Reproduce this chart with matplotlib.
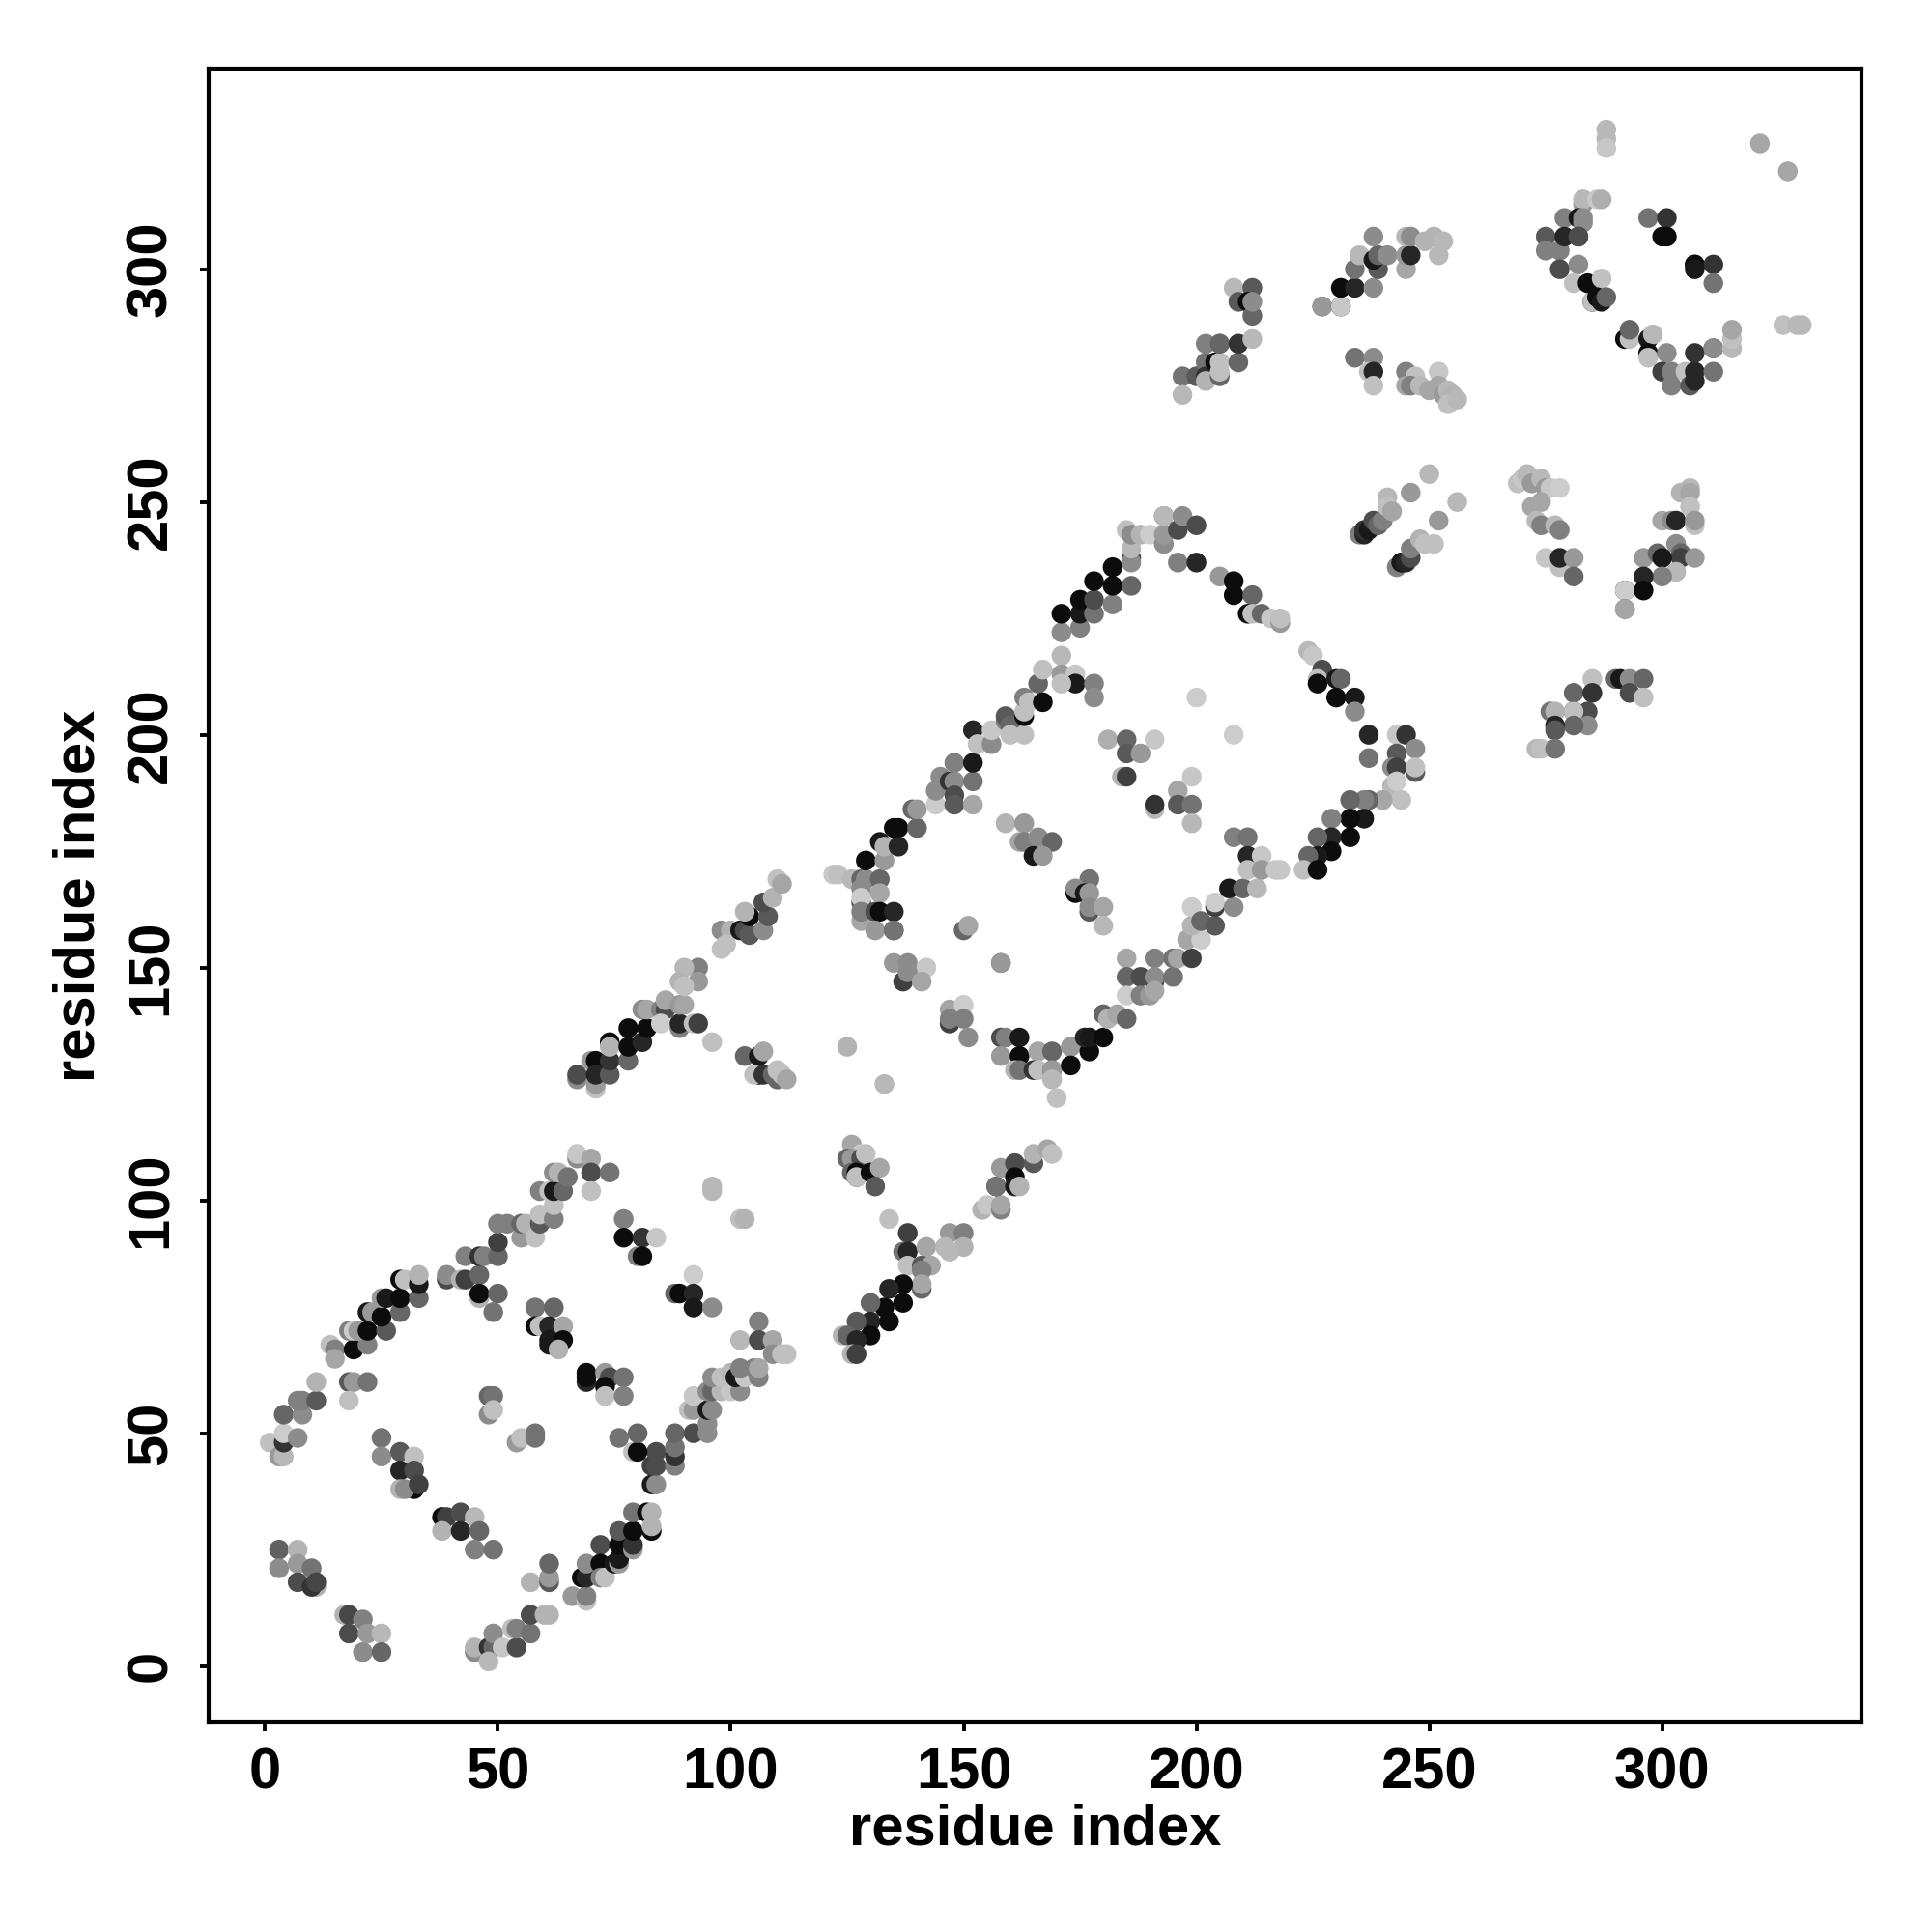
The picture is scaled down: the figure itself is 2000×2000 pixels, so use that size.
import matplotlib
matplotlib.use('Agg')
import matplotlib.pyplot as plt
import numpy as np

# contacts: (residue i, residue j, grey level)
lower_left = [
    (3,25,.38),(7,25,.7),(3,21,.55),(7,22,.6),(10,21,.45),(7,18,.3),(11,17,.7),(10,17,.2),(11,18,.27),
    (17,11,.7),(18,11,.28),(21,10,.5),(18,7,.3),(22,7,.6),(25,7,.72),(21,3,.55),(25,3,.4),
    (45,3,.55),(45,4,.7),(48,4,.2),(49,4,.4),(49,7,.55),(48,1,.72),(51,4,.78),(54,4,.3),
    (53,8,.75),(54,8,.5),(57,7,.45),(57,11,.3),(60,11,.7),(61,11,.7),
    (57,18,.7),(61,18,.35),(61,19,.6),(61,22,.4),
]
lower_arm = [
    (66,15,.6),(69,14,.75),(69,15,.5),(68,19,.05),(69,19,.15),(69,22,.55),(72,26,.3),(72,22,.05),
    (72,19,.5),(73,19,.75),(75,22,.1),(76,22,.6),(76,23,.1),(76,26,.05),(76,29,.35),(79,25,.6),(79,26,.2),
    (79,29,.05),(79,33,.45),(82,33,.05),(83,33,.7),(83,29,.05),(83,30,.7),
    (83,39,.1),(84,39,.55),(83,43,.25),(84,43,.3),(84,46,.3),(79,46,.75),(80,46,.05),(80,50,.4),(76,49,.45),
    (88,43,.5),(88,45,.2),(88,47,.45),(88,50,.4),(92,50,.3),(95,50,.55),(95,52,.55),(91,55,.75),(92,55,.6),
    (95,55,.1),(96,55,.55),(92,58,.78),(95,59,.55),(96,59,.4),(98,59,.72),(100,59,.78),(102,59,.55),
    (96,62,.55),(98,62,.75),(100,63,.72),(101,62,.1),(103,62,.78),(102,64,.5),(105,64,.5),(106,62,.5),(106,64,.65),
    (106,74,.5),(102,70,.72),(106,70,.3),(109,70,.65),(109,67,.55),(111,67,.75),(112,67,.75),
]
upper_arm = [
    (1,48,.75),(3,45,.6),(4,45,.72),(4,48,.2),(4,50,.8),(7,49,.55),(4,54,.4),(8,54,.55),(7,57,.5),(8,57,.5),
    (11,57,.35),(11,61,.7),(18,61,.35),(19,61,.6),(22,61,.45),(18,57,.75),
    (14,69,.75),(15,68,.5),(15,66,.65),(19,68,.05),(22,69,.5),(18,72,.5),(19,72,.8),(20,72,.6),(22,72,.05),
    (22,76,.1),(23,76,.6),(26,72,.35),(25,75,.05),(29,76,.4),(25,79,.6),(26,79,.1),(29,79,.05),(33,79,.4),
    (29,83,.05),(30,83,.75),(33,82,.1),(33,84,.7),
    (39,83,.3),(39,84,.55),(42,83,.7),(43,83,.25),(46,84,.4),(46,79,.7),(46,80,.05),(50,80,.4),(49,76,.45),
    (43,88,.5),(46,88,.2),(47,88,.5),(50,88,.4),(50,91,.25),(50,95,.5),(52,95,.5),(55,92,.6),(55,95,.4),
    (56,95,.7),(58,92,.75),(59,95,.35),(59,97,.75),(62,96,.5),(62,99,.75),(59,102,.5),(61,102,.75),
    (62,102,.1),(64,102,.4),(62,106,.55),(63,106,.7),(65,105,.45),(67,109,.55),(67,110,.78),(70,109,.65),
    (70,106,.3),(74,106,.45),(70,102,.75),
]
inner_a = [
    (77,96,.5),(77,92,.05),(81,92,.2),(84,92,.78),(80,88,.5),(81,88,.05),
    (92,84,.8),(88,80,.4),(89,80,.05),(92,80,.15),(92,77,.1),(96,77,.55),
    (96,102,.72),(96,103,.72),(102,96,.75),(103,96,.7),
    (58,77,.45),(62,77,.4),(58,73,.05),(59,73,.75),(61,73,.15),(64,73,.65),(61,69,.1),(61,70,.1),(64,70,.05),(63,68,.7),
    (69,61,.15),(69,62,.05),(69,63,.05),(73,63,.6),(74,62,.3),(77,62,.45),(73,60,.05),(73,58,.75),(77,58,.5),
    (48,58,.4),(49,58,.45),(48,54,.55),(49,55,.75),
    (54,48,.6),(55,49,.75),(58,49,.45),(58,50,.45),
    (25,49,.45),(25,45,.55),(29,46,.35),(32,45,.75),(29,42,.15),(32,42,.3),(32,38,.05),(29,38,.7),(30,38,.55),(33,39,.25),
    (38,32,.05),(39,32,.25),(38,29,.7),(42,33,.3),(42,29,.15),(45,32,.72),(46,29,.4),(45,25,.5),(49,25,.45),
]
middle_arm = [
    (67,126,.55),(67,127,.3),(70,130,.6),(71,130,.05),(71,124,.75),(71,125,.6),(71,127,.15),
    (74,127,.35),(74,130,.2),(78,130,.4),(74,134,.05),(74,133,.7),(78,137,.05),(78,133,.05),(81,134,.15),(82,137,.05),
    (81,141,.55),(82,141,.65),(85,141,.5),(86,141,.3),(86,143,.65),(85,138,.8),(89,137,.5),(89,138,.15),(89,142,.6),(90,142,.65),
    (92,138,.75),(93,138,.25),(93,150,.5),(93,147,.6),(90,150,.72),(89,147,.7),(90,146,.75),(96,134,.75),
    (98,158,.55),(100,158,.7),(98,154,.75),(99,155,.75),(102,158,.1),(103,158,.3),(104,157,.35),(107,158,.55),
    (104,161,.05),(103,162,.7),(108,161,.35),(107,164,.3),(109,165,.7),(110,169,.75),(111,168,.65),
    (103,131,.4),(106,131,.1),(107,132,.65),(106,127,.05),(105,127,.75),(107,127,.2),(109,127,.4),(110,126,.4),
    (110,128,.75),(111,127,.75),(112,126,.65),
]
mid_lower = [
    (125,133,.7),(133,125,.72),
    (126,112,.65),(128,110,.78),(125,109,.4),(126,109,.6),(128,109,.3),(129,110,.75),(126,106,.4),(127,106,.05),
    (127,105,.3),(127,105,.75),(130,106,.05),(132,107,.65),(131,103,.35),
    (134,96,.75),(138,93,.25),(137,89,.45),(138,89,.15),(142,90,.65),(138,86,.75),(141,86,.35),(143,86,.65),(141,85,.5),
    (141,81,.4),(141,82,.65),(137,82,.05),(137,78,.05),(134,81,.15),(133,77,.05),(130,78,.4),(130,74,.15),(134,74,.05),
    (127,74,.35),(124,71,.7),(125,71,.4),(130,71,.05),(127,70,.15),(126,67,.7),(127,67,.25),
    (147,93,.6),(150,93,.5),(146,90,.72),(150,90,.7),(147,89,.72),
    (154,98,.75),(154,98,.7),(155,99,.78),(158,98,.5),(158,99,.65),(157,103,.25),(157,103,.45),(158,107,.6),
    (161,108,.3),(161,105,.05),(161,103,.1),(162,103,.7),(165,108,.35),(165,110,.7),(168,111,.65),(169,110,.75),
]
ring_left = [
    (122,170,.78),(123,170,.75),(126,169,.72),(128,169,.4),(129,169,.55),(132,169,.4),(128,167,.55),(128,164,.35),(128,165,.8),
    (132,166,.65),(128,160,.65),(128,162,.5),(131,162,.3),(132,162,.05),(135,162,.15),(131,158,.6),(135,158,.3),(135,158,.45),
    (129,173,.05),(133,173,.6),(132,177,.1),(133,176,.7),(136,180,.05),(136,176,.15),(135,180,.05),(140,180,.4),
    (139,184,.4),(140,184,.6),(144,185,.8),(144,188,.55),(145,191,.55),(147,190,.2),(148,190,.55),(148,187,.3),(148,185,.35),
    (152,185,.65),(152,190,.45),(148,194,.5),(152,194,.1),(152,201,.15),(153,198,.75),(156,198,.55),(156,201,.78),
    (159,203,.5),(159,204,.35),(160,202,.4),(160,200,.75),(163,200,.75),(163,204,.05),(163,205,.75),(163,208,.5),(164,207,.75),(166,211,.4),
    (167,207,.05),(167,214,.75),(171,217,.72),(171,213,.6),(174,213,.78),(174,211,.1),(171,211,.75),(178,211,.5),(178,208,.55),
]
ring_top = [
    (171,222,.55),(171,226,.05),(175,223,.5),(175,226,.1),(178,226,.45),(175,229,.05),(178,229,.3),(182,228,.5),(178,233,.05),
    (182,232,.05),(182,236,.05),(186,232,.4),(186,238,.3),(186,237,.55),(186,240,.72),(185,244,.75),(186,243,.55),
    (188,243,.7),(190,243,.8),(193,241,.55),(193,243,.6),(193,247,.4),(193,247,.72),(196,244,.3),(197,247,.55),
    (200,245,.3),(196,237,.5),(200,237,.15),
    (205,234,.6),(208,233,.05),(208,230,.05),(212,230,.4),(211,226,.05),(212,226,.75),(214,226,.4),
    (216,225,.78),(218,224,.6),(218,225,.75),
]
ring_right = [
    (224,218,.72),(225,217,.78),(227,214,.3),(226,212,.75),(226,211,.05),(230,212,.1),(231,212,.4),(230,208,.05),(234,208,.1),
    (234,205,.55),(237,200,.15),(237,195,.45),(243,200,.78),(245,200,.2),(243,196,.35),(247,197,.55),(242,193,.55),(243,193,.25),
    (247,192,.35),(247,193,.75),(242,189,.72),(243,190,.8),(244,186,.75),(240,186,.65),(237,186,.4),(236,186,.5),(233,186,.4),
    (236,182,.1),(233,182,.05),(229,182,.5),(233,178,.05),(229,178,.15),(229,175,.05),(226,178,.4),(226,174,.1),(224,174,.4),
    (223,171,.75),(226,171,.05),
]
ring_lower = [
    (158,135,.3),(159,135,.5),(162,135,.1),(158,131,.6),(162,131,.05),(166,132,.65),(169,132,.4),(161,128,.7),(162,128,.45),
    (165,128,.2),(166,128,.75),(169,128,.35),(169,128,.6),(169,126,.72),(170,122,.75),(173,133,.6),(173,129,.05),(177,132,.05),
    (176,135,.15),(177,135,.1),(180,135,.05),(180,140,.4),(181,139,.7),(183,140,.65),(185,139,.4),
    (185,152,.65),(191,152,.5),(185,148,.4),(188,148,.3),(191,147,.3),(191,148,.55),(195,148,.45),(185,144,.8),(188,144,.5),
    (190,144,.6),(191,145,.65),(195,152,.45),(196,152,.65),(199,152,.25),
    (198,156,.65),(201,156,.8),(199,159,.7),(199,163,.8),(201,160,.4),(204,159,.35),(204,163,.25),(204,164,.8),(208,163,.55),
    (207,167,.1),(210,167,.4),(213,167,.72),
    (208,178,.5),(211,178,.45),(211,174,.15),(214,174,.78),(211,171,.75),(214,171,.6),(217,171,.78),(218,171,.78),
]
ring_inner = [
    (200,208,.8),(208,200,.8),(181,199,.68),(185,199,.4),(191,199,.78),(185,196,.35),(188,196,.6),(184,191,.7),(185,191,.25),
    (199,191,.78),(196,188,.65),(191,184,.72),(191,185,.2),(196,185,.35),(199,185,.45),(199,181,.72),
    (159,181,.7),(163,181,.6),(162,177,.65),(163,177,.5),(166,178,.55),(169,177,.4),(165,174,.1),(167,174,.6),
    (177,169,.45),(174,166,.05),(174,167,.55),(176,166,.1),(177,166,.6),(177,162,.35),(177,163,.55),(180,163,.65),(180,159,.72),
    (135,151,.6),(138,151,.55),(142,150,.78),(137,147,.25),(138,149,.55),(141,147,.65),
    (150,158,.4),(151,159,.65),(158,151,.4),(158,151,.6),
    (147,141,.65),(150,142,.8),(147,138,.25),(147,139,.5),(150,139,.5),(151,135,.55),
]
strand_b = [
    (197,277,.45),(197,273,.72),(200,277,.35),(202,280,.45),(202,277,.2),(202,276,.7),(202,284,.5),(205,284,.5),
    (204,280,.05),(205,280,.75),(205,277,.4),(205,278,.75),(205,284,.4),(209,280,.4),(209,284,.2),(212,285,.72),
    (208,296,.72),(212,296,.35),(209,293,.35),(211,293,.05),(212,290,.4),(212,293,.55),
    (227,292,.35),(227,292,.6),(231,292,.05),(231,292,.78),(231,296,.05),(234,296,.15),(238,296,.55),(234,300,.45),(239,300,.35),
    (235,303,.72),(238,302,.1),(239,303,.4),(241,303,.55),(238,307,.55),(245,300,.65),(245,303,.6),(246,303,.15),
    (245,307,.72),(246,307,.55),(249,306,.7),(252,303,.72),(251,307,.7),(253,306,.72),
    (234,281,.45),(238,281,.55),(237,278,.75),(238,278,.15),(238,275,.75),
    (245,278,.5),(247,277,.75),(245,275,.65),(246,275,.5),(252,278,.78),(248,275,.72),(250,274,.65),(252,275,.65),
    (253,273,.6),(254,274,.72),(255,273,.7),(254,271,.75),(256,272,.72),
]
strand_c = [
    (250,256,.72),(246,252,.6),(256,250,.72),(252,246,.6),
    (235,243,.5),(236,243,.15),(236,244,.2),(237,244,.1),(238,246,.3),(239,245,.4),(240,246,.5),(241,251,.72),(241,249,.75),(242,248,.65),
    (243,236,.5),(244,237,.2),(244,237,.1),(245,237,.15),(246,238,.3),(246,240,.5),(248,242,.7),(249,241,.75),(251,241,.75),
    (269,254,.75),(270,255,.78),(271,256,.72),(272,254,.6),(274,255,.72),(275,253,.6),(276,253,.78),(278,253,.8),
    (272,249,.65),(274,250,.65),(273,246,.72),(274,245,.5),(277,245,.72),(278,244,.5),(275,238,.78),(278,236,.75),(278,238,.15),(281,238,.6),(281,234,.4),
    (306,253,.72),(304,252,.7),(306,252,.65),(306,249,.75),(300,246,.65),(302,246,.55),(303,246,.15),(307,245,.75),(307,246,.6),
    (303,241,.55),(304,239,.4),(304,238,.25),(307,238,.6),(296,238,.6),(299,239,.4),(300,238,.1),(303,235,.72),(300,234,.5),
    (296,234,.15),(292,231,.05),(292,231,.8),(296,231,.05),(292,227,.35),(292,227,.65),
    (285,212,.75),(290,212,.4),(291,212,.1),(293,212,.55),(296,212,.4),(293,209,.3),(296,208,.75),(281,209,.4),(285,209,.2),
    (284,205,.3),(281,205,.05),(281,205,.75),(276,205,.45),(277,205,.7),(284,202,.55),(281,202,.4),(277,202,.15),(277,201,.35),
    (273,197,.72),(274,197,.75),(277,197,.45),
]
top_corner = [
    (288,330,.72),(288,328,.72),(288,326,.78),(321,327,.65),(327,321,.65),(326,288,.75),(329,288,.72),(330,288,.72),
    (283,314,.6),(283,315,.72),(286,315,.78),(287,315,.68),(279,311,.5),(282,311,.1),(283,311,.55),(283,310,.55),
    (275,307,.35),(275,304,.5),(278,304,.5),(279,307,.15),(282,307,.2),(282,307,.3),
    (278,300,.3),(282,301,.55),(281,297,.75),(284,297,.05),(287,298,.75),(285,293,.05),(285,293,.75),(286,294,.05),(287,293,.1),(288,294,.4),
    (297,311,.45),(301,311,.2),(300,307,.05),(301,307,.05),(307,301,.05),(307,301,.05),(311,301,.2),(307,300,.1),(311,297,.45),
    (292,285,.05),(293,285,.75),(293,287,.4),(297,285,.1),(298,286,.72),(297,282,.05),(297,281,.75),(301,282,.55),(300,278,.25),
    (302,278,.5),(302,275,.5),(305,278,.75),(306,275,.35),(307,276,.15),(307,278,.15),(307,282,.2),(311,278,.45),(311,283,.1),
    (311,283,.55),(315,283,.72),(315,285,.75),(315,287,.65),
]

clusters = [lower_left, lower_arm, upper_arm, inner_a, middle_arm, mid_lower, ring_left,
            ring_top, ring_right, ring_lower, ring_inner, strand_b, strand_c, top_corner]

res_i, res_j, grey = np.array([p for c in clusters for p in c]).T

tick_vals = [0, 50, 100, 150, 200, 250, 300]

plt.rcParams['font.family'] = ['Liberation Sans', 'DejaVu Sans']
plt.rcParams['font.weight'] = 'bold'

fig = plt.figure(figsize=(10, 10), dpi=200)
ax = fig.add_axes([0.1078, 0.1085, 0.8557, 0.8558])

ax.scatter(res_i, res_j, c=grey, cmap='gray', vmin=0, vmax=1, s=54, linewidths=0, zorder=2)

ax.set_xlim(-12.2, 342.8)
ax.set_ylim(-12.1, 343)
ax.set_xticks(tick_vals)
ax.set_yticks(tick_vals)
ax.tick_params(length=3.2, width=1.4, labelsize=21.5)
ax.tick_params(axis='x', pad=5.8)
ax.tick_params(axis='y', pad=8)
plt.setp(ax.get_yticklabels(), rotation=90, va='center')
for side in ax.spines.values():
    side.set_linewidth(1.5)

ax.set_xlabel('residue index', fontsize=21.5, fontweight='bold', labelpad=1.2)
ax.set_ylabel('residue index', fontsize=21.5, fontweight='bold', labelpad=7.2)

fig.savefig('out.png', dpi=200)
plt.close()
